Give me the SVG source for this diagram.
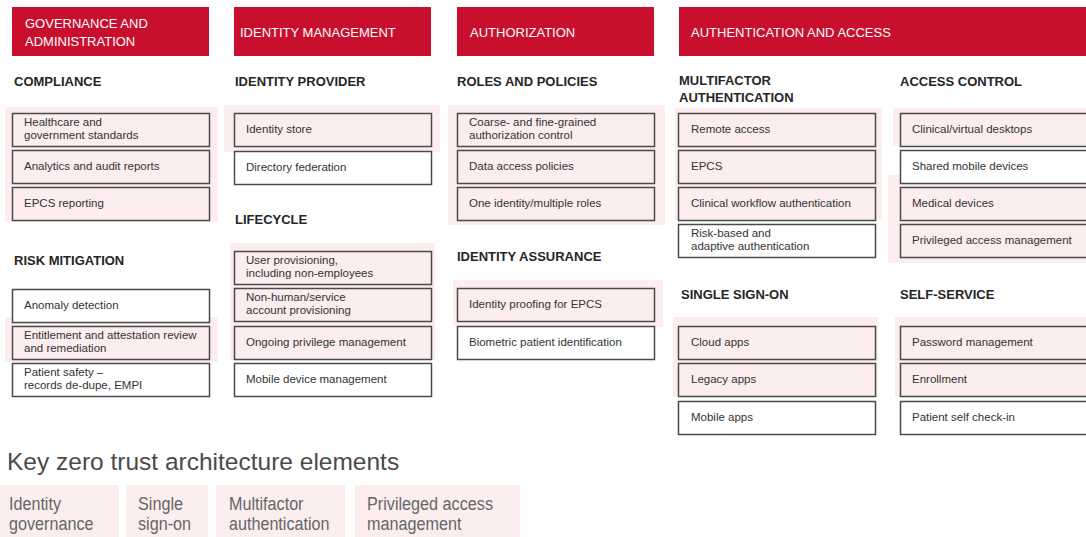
<svg xmlns="http://www.w3.org/2000/svg" width="1086" height="537" viewBox="0 0 1086 537">
<style>
text{font-family:"Liberation Sans",Arial,sans-serif}
.hdr{fill:#c8102e}
.hdrt{font-size:13px;fill:#ffffff}
.sec{font-size:13px;font-weight:bold;fill:#262626}
.bg{fill:#fcedef}
.box{fill:#ffffff;stroke:#4a4a4a;stroke-width:1.5}
.p{fill:#fcedef}
.bt{font-size:11.5px;fill:#333333}
.title{font-size:24.5px;fill:#4a4a4a}
.legt{font-size:18px;fill:#666666}
</style>
<rect width="1086" height="537" fill="#ffffff"/>
<g id="backgrounds">
<rect class="bg" x="5" y="107" width="213" height="115"/>
<rect class="bg" x="5" y="317" width="213" height="45"/>
<rect class="bg" x="224" y="105" width="216" height="47"/>
<rect class="bg" x="230" y="243" width="205" height="117"/>
<rect class="bg" x="448" y="105" width="217" height="120"/>
<rect class="bg" x="453" y="280" width="210" height="47"/>
<rect class="bg" x="675" y="108" width="207" height="112"/>
<rect class="bg" x="893" y="108" width="193" height="38"/>
<rect class="bg" x="888" y="175" width="198" height="88"/>
<rect class="bg" x="673" y="317" width="205" height="80"/>
<rect class="bg" x="895" y="317" width="191" height="80"/>
</g>
<g id="col-governance">
<rect class="hdr" x="12" y="7" width="197" height="49"/>
<text class="hdrt" x="25" y="28">GOVERNANCE AND</text>
<text class="hdrt" x="25" y="46">ADMINISTRATION</text>
<text class="sec" x="14" y="86">COMPLIANCE</text>
<text class="sec" x="14" y="265">RISK MITIGATION</text>
</g>
<g id="n-healthcare"><rect class="box p" x="12.5" y="113.5" width="197" height="33"/><text class="bt" x="24" y="126">Healthcare and</text><text class="bt" x="24" y="139">government standards</text></g>
<g id="n-analytics"><rect class="box p" x="12.5" y="150.5" width="197" height="33"/><text class="bt" x="24" y="170">Analytics and audit reports</text></g>
<g id="n-epcs-reporting"><rect class="box p" x="12.5" y="187.5" width="197" height="33"/><text class="bt" x="24" y="207">EPCS reporting</text></g>
<g id="n-anomaly"><rect class="box" x="12.5" y="289.5" width="197" height="33"/><text class="bt" x="24" y="309">Anomaly detection</text></g>
<g id="n-entitlement"><rect class="box p" x="12.5" y="326.5" width="197" height="33"/><text class="bt" x="24" y="339">Entitlement and attestation review</text><text class="bt" x="24" y="352">and remediation</text></g>
<g id="n-patient-safety"><rect class="box" x="12.5" y="363.5" width="197" height="33"/><text class="bt" x="24" y="376">Patient safety –</text><text class="bt" x="24" y="389">records de-dupe, EMPI</text></g>

<g id="col-identity">
<rect class="hdr" x="234" y="7" width="197" height="49"/>
<text class="hdrt" x="240" y="37">IDENTITY MANAGEMENT</text>
<text class="sec" x="235" y="86">IDENTITY PROVIDER</text>
<text class="sec" x="235" y="224">LIFECYCLE</text>
</g>
<g id="n-identity-store"><rect class="box p" x="234.5" y="113.5" width="197" height="33"/><text class="bt" x="246" y="133">Identity store</text></g>
<g id="n-directory"><rect class="box" x="234.5" y="151.5" width="197" height="33"/><text class="bt" x="246" y="171">Directory federation</text></g>
<g id="n-user-prov"><rect class="box p" x="234.5" y="251.5" width="197" height="33"/><text class="bt" x="246" y="264">User provisioning,</text><text class="bt" x="246" y="277">including non-employees</text></g>
<g id="n-nonhuman"><rect class="box p" x="234.5" y="288.5" width="197" height="33"/><text class="bt" x="246" y="301">Non-human/service</text><text class="bt" x="246" y="314">account provisioning</text></g>
<g id="n-ongoing"><rect class="box p" x="234.5" y="326.5" width="197" height="33"/><text class="bt" x="246" y="346">Ongoing privilege management</text></g>
<g id="n-mdm"><rect class="box" x="234.5" y="363.5" width="197" height="33"/><text class="bt" x="246" y="383">Mobile device management</text></g>

<g id="col-authorization">
<rect class="hdr" x="457" y="7" width="197" height="49"/>
<text class="hdrt" x="470" y="37">AUTHORIZATION</text>
<text class="sec" x="457" y="86">ROLES AND POLICIES</text>
<text class="sec" x="457" y="261">IDENTITY ASSURANCE</text>
</g>
<g id="n-coarse"><rect class="box p" x="457.5" y="113.5" width="197" height="33"/><text class="bt" x="469" y="126">Coarse- and fine-grained</text><text class="bt" x="469" y="139">authorization control</text></g>
<g id="n-data-access"><rect class="box p" x="457.5" y="150.5" width="197" height="33"/><text class="bt" x="469" y="170">Data access policies</text></g>
<g id="n-one-identity"><rect class="box p" x="457.5" y="187.5" width="197" height="33"/><text class="bt" x="469" y="207">One identity/multiple roles</text></g>
<g id="n-proofing"><rect class="box p" x="457.5" y="288.5" width="197" height="33"/><text class="bt" x="469" y="308">Identity proofing for EPCS</text></g>
<g id="n-biometric"><rect class="box" x="457.5" y="326.5" width="197" height="33"/><text class="bt" x="469" y="346">Biometric patient identification</text></g>

<g id="col-authentication">
<rect class="hdr" x="679" y="7" width="420" height="49"/>
<text class="hdrt" x="691" y="37">AUTHENTICATION AND ACCESS</text>
<text class="sec" x="679" y="85">MULTIFACTOR</text>
<text class="sec" x="679" y="102">AUTHENTICATION</text>
<text class="sec" x="681" y="299">SINGLE SIGN-ON</text>
<text class="sec" x="900" y="86">ACCESS CONTROL</text>
<text class="sec" x="900" y="299">SELF-SERVICE</text>
</g>
<g id="n-remote"><rect class="box p" x="678.5" y="113.5" width="197" height="33"/><text class="bt" x="691" y="133">Remote access</text></g>
<g id="n-epcs"><rect class="box p" x="678.5" y="150.5" width="197" height="33"/><text class="bt" x="691" y="170">EPCS</text></g>
<g id="n-clinical-wf"><rect class="box p" x="678.5" y="187.5" width="197" height="33"/><text class="bt" x="691" y="207">Clinical workflow authentication</text></g>
<g id="n-risk-based"><rect class="box" x="678.5" y="224.5" width="197" height="33"/><text class="bt" x="691" y="237">Risk-based and</text><text class="bt" x="691" y="250">adaptive authentication</text></g>
<g id="n-cloud"><rect class="box p" x="678.5" y="326.5" width="197" height="33"/><text class="bt" x="691" y="346">Cloud apps</text></g>
<g id="n-legacy"><rect class="box p" x="678.5" y="363.5" width="197" height="33"/><text class="bt" x="691" y="383">Legacy apps</text></g>
<g id="n-mobile-apps"><rect class="box" x="678.5" y="401.5" width="197" height="33"/><text class="bt" x="691" y="421">Mobile apps</text></g>
<g id="n-clinical-desk"><rect class="box p" x="900.5" y="113.5" width="200" height="33"/><text class="bt" x="912" y="133">Clinical/virtual desktops</text></g>
<g id="n-shared-mobile"><rect class="box" x="900.5" y="150.5" width="200" height="33"/><text class="bt" x="912" y="170">Shared mobile devices</text></g>
<g id="n-medical"><rect class="box p" x="900.5" y="187.5" width="200" height="33"/><text class="bt" x="912" y="207">Medical devices</text></g>
<g id="n-pam"><rect class="box p" x="900.5" y="224.5" width="200" height="33"/><text class="bt" x="912" y="244">Privileged access management</text></g>
<g id="n-password"><rect class="box p" x="900.5" y="326.5" width="200" height="33"/><text class="bt" x="912" y="346">Password management</text></g>
<g id="n-enrollment"><rect class="box p" x="900.5" y="363.5" width="200" height="33"/><text class="bt" x="912" y="383">Enrollment</text></g>
<g id="n-self-checkin"><rect class="box" x="900.5" y="401.5" width="200" height="33"/><text class="bt" x="912" y="421">Patient self check-in</text></g>

<g id="connectors"></g>

<g id="legend">
<text class="title" x="7" y="470">Key zero trust architecture elements</text>
<g id="leg-identity-gov"><rect class="bg" x="0" y="485" width="119" height="52"/><text class="legt" x="9" y="510" textLength="52" lengthAdjust="spacingAndGlyphs">Identity</text><text class="legt" x="9" y="530" textLength="84.5" lengthAdjust="spacingAndGlyphs">governance</text></g>
<g id="leg-sso"><rect class="bg" x="126" y="485" width="82" height="52"/><text class="legt" x="138" y="510" textLength="45" lengthAdjust="spacingAndGlyphs">Single</text><text class="legt" x="138" y="530" textLength="53" lengthAdjust="spacingAndGlyphs">sign-on</text></g>
<g id="leg-mfa"><rect class="bg" x="216" y="485" width="129" height="52"/><text class="legt" x="229" y="510" textLength="74.5" lengthAdjust="spacingAndGlyphs">Multifactor</text><text class="legt" x="229" y="530" textLength="100.5" lengthAdjust="spacingAndGlyphs">authentication</text></g>
<g id="leg-pam"><rect class="bg" x="355" y="485" width="165" height="52"/><text class="legt" x="367" y="510" textLength="126" lengthAdjust="spacingAndGlyphs">Privileged access</text><text class="legt" x="367" y="530" textLength="94.5" lengthAdjust="spacingAndGlyphs">management</text></g>
</g>
</svg>
